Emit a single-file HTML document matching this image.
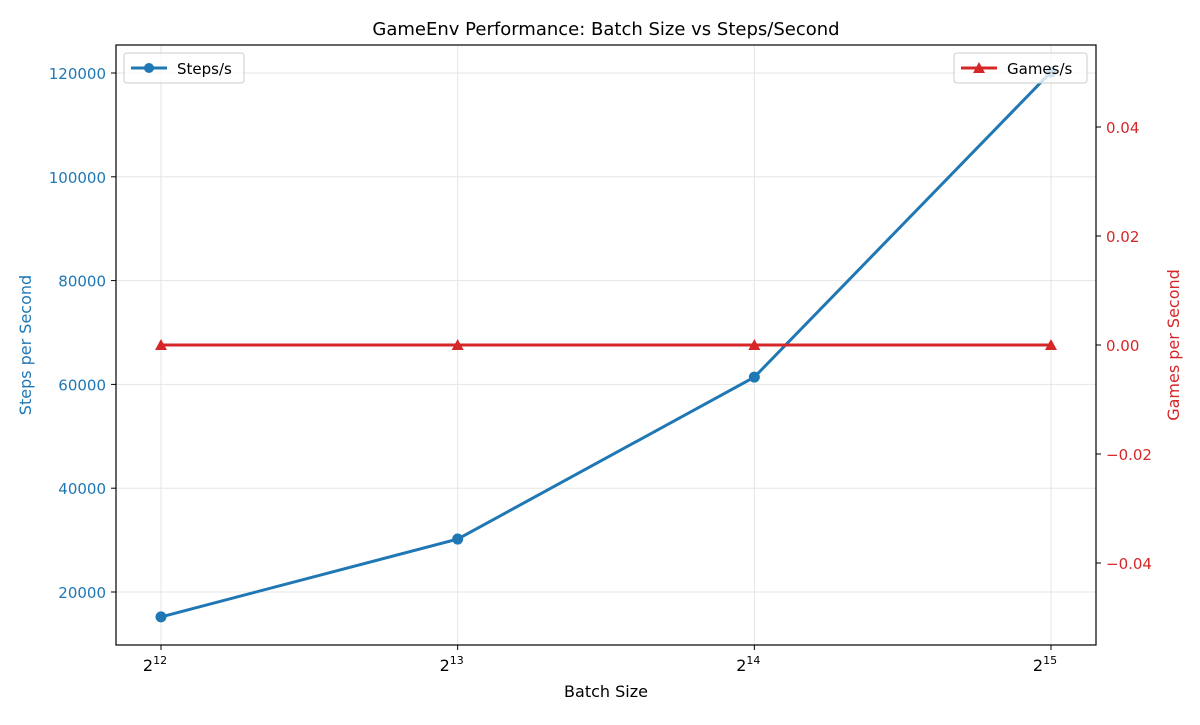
<!DOCTYPE html>
<html><head><meta charset="utf-8"><style>
body{margin:0;background:#fff;font-family:"Liberation Sans","DejaVu Sans",sans-serif;}
text{font-family:"DejaVu Sans","Liberation Sans",sans-serif;}
</style></head><body>
<svg id="chart" width="1200" height="720" xmlns="http://www.w3.org/2000/svg">
<rect width="1200" height="720" fill="#fff"/>
<text x="606" y="35" text-anchor="middle" font-size="18">GameEnv Performance: Batch Size vs Steps/Second</text>
<g id="grid"></g>
<g id="axes"></g>
<g id="series"></g>
<rect x="116" y="45" width="980" height="600" fill="none" stroke="#000" stroke-width="1.2"/>
<text x="606" y="697" text-anchor="middle" font-size="16">Batch Size</text>
<text transform="translate(31,345) rotate(-90)" text-anchor="middle" font-size="16" fill="#1f77b4">Steps per Second</text>
<text transform="translate(1179,345) rotate(-90)" text-anchor="middle" font-size="16" fill="#d62728">Games per Second</text>
<g>
<rect x="124" y="53" width="120" height="30" rx="3" fill="#fff" fill-opacity="0.8" stroke="#ccc"/>
<line x1="131" y1="68" x2="167" y2="68" stroke="#1f77b4" stroke-width="3"/>
<circle cx="149" cy="68" r="5" fill="#1f77b4"/>
<text x="177" y="74" font-size="15">Steps/s</text>
</g>
<g>
<rect x="954" y="53" width="133" height="30" rx="3" fill="#fff" fill-opacity="0.8" stroke="#ccc"/>
<line x1="961" y1="68" x2="997" y2="68" stroke="#d62728" stroke-width="3"/>
<polygon points="979,62 985,73 973,73" fill="#d62728"/>
<text x="1007" y="74" font-size="15">Games/s</text>
</g>
</svg>
<script>
const batchExps = [12, 13, 14, 15];
const stepsPerSec = [15200, 30200, 61400, 120200];
const gamesPerSec = [0, 0, 0, 0];
const leftTicks = [20000, 40000, 60000, 80000, 100000, 120000];
const rightTicks = [-0.04, -0.02, 0.00, 0.02, 0.04];
const rightTickLabels = ["\u22120.04", "\u22120.02", "0.00", "0.02", "0.04"];

const NS = "http://www.w3.org/2000/svg";
const X = e => 161 + (e - 12) * 296.67;
const YL = v => 592 - (v - 20000) * 0.00519;
const YR = v => 345 - v * 5450;
function mk(tag, attrs, parent, txt) {
  const el = document.createElementNS(NS, tag);
  for (const k in attrs) el.setAttribute(k, attrs[k]);
  if (txt !== undefined) el.textContent = txt;
  document.getElementById(parent).appendChild(el);
  return el;
}
batchExps.forEach(e => {
  const g = mk("line", {x1: X(e), x2: X(e), y1: 45, y2: 645, stroke: "#e5e5e5"}, "grid");
  
  
  const t = mk("line", {x1: X(e), x2: X(e), y1: 645, y2: 650, stroke: "#000"}, "axes");
  
  
  const l = mk("text", {x: X(e) - 6, y: 671, "text-anchor": "middle", "font-size": "16"}, "axes", "2");
  
  
  const sp = document.createElementNS(NS, "tspan");
  sp.setAttribute("dy", "-7"); sp.setAttribute("font-size", "11"); sp.textContent = String(e);
  l.appendChild(sp);
});
leftTicks.forEach(v => {
  const g = mk("line", {x1: 116, x2: 1096, y1: YL(v), y2: YL(v), stroke: "#e5e5e5"}, "grid");
  
  
  const t = mk("line", {x1: 111, x2: 116, y1: YL(v), y2: YL(v), stroke: "#000"}, "axes");
  
  
  const l = mk("text", {x: 106, y: YL(v) + 6, "text-anchor": "end", "font-size": "15", fill: "#1f77b4"}, "axes", String(v));
  
  
});
rightTicks.forEach((v, i) => {
  const t = mk("line", {x1: 1096, x2: 1101, y1: YR(v), y2: YR(v), stroke: "#000"}, "axes");
  
  
  const l = mk("text", {x: 1106, y: YR(v) + 6, "font-size": "15", fill: "#d62728"}, "axes", rightTickLabels[i]);
  
  
});
const sl = mk("polyline", {points: batchExps.map((e, i) => X(e) + "," + YL(stepsPerSec[i])).join(" "), fill: "none", stroke: "#1f77b4", "stroke-width": "3"}, "series");


batchExps.forEach((e, i) => {
  const c = mk("circle", {cx: X(e), cy: YL(stepsPerSec[i]), r: 5.5, fill: "#1f77b4"}, "series");
  
  
});
const gl = mk("polyline", {points: batchExps.map((e, i) => X(e) + "," + YR(gamesPerSec[i])).join(" "), fill: "none", stroke: "#d62728", "stroke-width": "3"}, "series");


batchExps.forEach((e, i) => {
  const x = X(e), y = YR(gamesPerSec[i]);
  const p = mk("polygon", {points: `${x},${y-6} ${x+6},${y+5} ${x-6},${y+5}`, fill: "#d62728"}, "series");
  
  
});
</script>
</body></html>
